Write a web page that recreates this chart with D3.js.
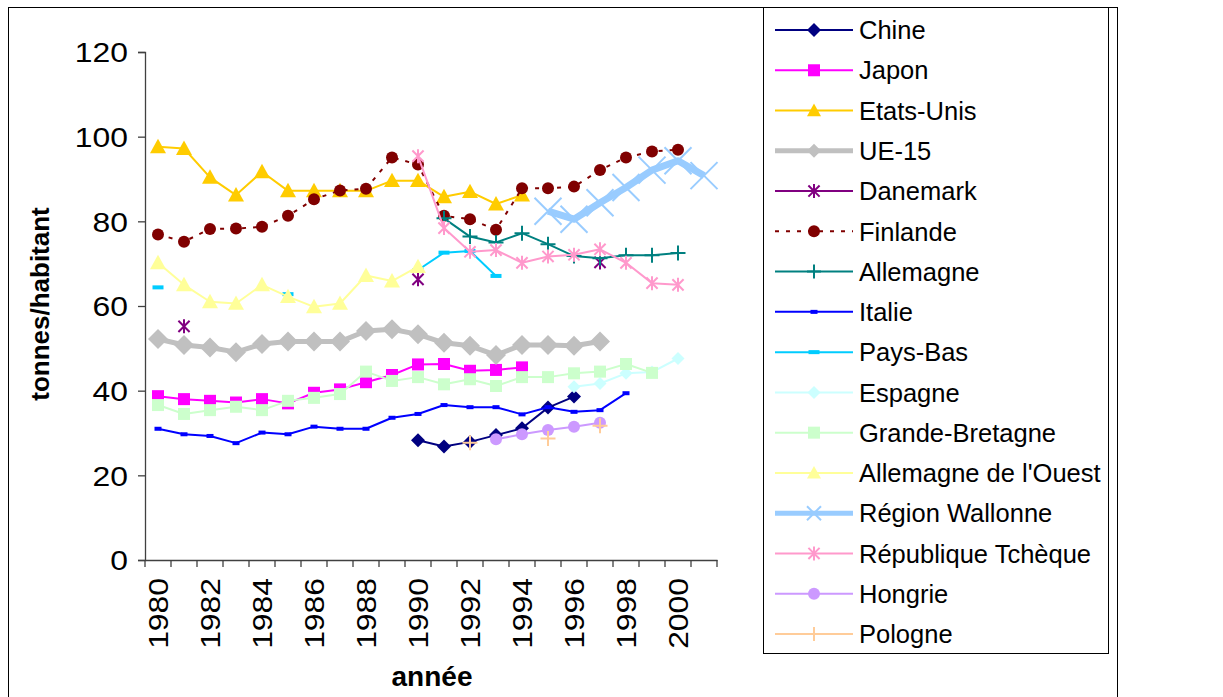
<!DOCTYPE html>
<html>
<head>
<meta charset="utf-8">
<script src="https://cdn.jsdelivr.net/npm/d3@7/dist/d3.min.js"></script>
<style>
  body { margin: 0; background: #fff; }
  svg { display: block; }
  text { font-family: "Liberation Sans", Arial, sans-serif; fill: #000; }
</style>
</head>
<body>
<svg id="chart" width="1223" height="697"></svg>
<script>
// ---- data: tonnes per inhabitant, 1980-2001 (null = no value) ----
const _ = null;
const years = [1980,1981,1982,1983,1984,1985,1986,1987,1988,1989,1990,1991,1992,1993,1994,1995,1996,1997,1998,1999,2000,2001];
const xTickLabels = [1980,1982,1984,1986,1988,1990,1992,1994,1996,1998,2000];
const yTickValues = [0,20,40,60,80,100,120];

const seriesNames = ["Chine","Japon","Etats-Unis","UE-15","Danemark","Finlande","Allemagne","Italie",
  "Pays-Bas","Espagne","Grande-Bretagne","Allemagne de l'Ouest","Région Wallonne","République Tchèque","Hongrie","Pologne"];

const chine      = [_,_,_,_,_,_,_,_,_,_,28.3,26.8,27.9,29.5,31.1,36.0,38.6,_,_,_,_,_];
const japon      = [38.7,38.0,37.6,37.2,38.0,37.0,39.5,40.3,42.0,43.7,46.2,46.3,44.7,44.9,45.5,_,_,_,_,_,_,_];
const etatsUnis  = [97.6,97.2,90.4,86.2,91.7,87.2,87.2,87.2,87.2,89.6,89.6,85.8,87.0,84.1,86.2,_,_,_,_,_,_,_];
const ue15       = [52.2,50.8,50.2,49.1,51.0,51.6,51.6,51.6,54.1,54.5,53.3,51.3,50.6,48.4,50.8,50.8,50.6,51.6,_,_,_,_];
const danemark   = [_,55.2,_,_,_,_,_,_,_,_,66.3,_,_,_,_,_,_,70.3,_,_,_,_];
const finlande   = [76.9,75.2,78.2,78.3,78.7,81.3,85.2,87.3,87.7,95.1,93.4,81.3,80.5,78.0,87.8,87.8,88.2,92.1,95.1,96.5,96.9,_];
const allemagne  = [_,_,_,_,_,_,_,_,_,_,_,80.7,76.4,75.0,77.2,74.6,71.8,71.3,72.0,72.0,72.5,_];
const italie     = [31.0,29.7,29.3,27.6,30.1,29.7,31.5,31.0,31.0,33.6,34.5,36.6,36.1,36.1,34.4,36.1,35.0,35.4,39.4,_,_,_];
const paysBas    = [64.4,_,_,_,_,62.8,_,_,_,_,68.5,72.6,73.0,67.1,_,_,_,_,_,_,_,_];
const espagne    = [_,_,_,_,_,_,_,_,_,_,_,_,_,_,_,_,40.9,41.7,44.1,44.4,47.6,_];
const grandeBret = [36.6,34.5,35.4,36.2,35.4,37.6,38.3,39.2,44.5,42.3,43.2,41.5,42.7,41.1,43.2,43.2,44.1,44.5,46.3,44.2,_,_];
const allOuest   = [70.2,65.0,61.0,60.6,65.0,62.2,59.8,60.6,67.2,65.9,69.3,_,_,_,_,_,_,_,_,_,_,_];
const wallonie   = [_,_,_,_,_,_,_,_,_,_,_,_,_,_,_,82.4,80.5,84.4,88.0,92.1,94.3,90.8];
const tcheque    = [_,_,_,_,_,_,_,_,_,_,95.4,78.4,72.8,73.2,70.2,71.7,72.1,73.4,70.2,65.4,65.0,_];
const hongrie    = [_,_,_,_,_,_,_,_,_,_,_,_,_,28.5,29.7,30.7,31.5,32.4,_,_,_,_];
const pologne    = [_,_,_,_,_,_,_,_,_,_,_,_,27.7,_,_,28.7,_,31.7,_,_,_,_];

const seriesValues = [chine, japon, etatsUnis, ue15, danemark, finlande, allemagne, italie,
  paysBas, espagne, grandeBret, allOuest, wallonie, tcheque, hongrie, pologne];

// ---- drawing styles, one per series ----
const seriesStyles = [
  { color: "#000080", width: 2,   marker: "diamond",  size: 14 },
  { color: "#FF00FF", width: 2,   marker: "square",   size: 12 },
  { color: "#FFCC00", width: 2,   marker: "triangle", size: 16 },
  { color: "#C0C0C0", width: 5,   marker: "diamond",  size: 20 },
  { color: "#800080", width: 2,   marker: "asterisk", size: 14 },
  { color: "#800000", width: 2,   marker: "circle",   size: 12, dash: "4,7" },
  { color: "#008080", width: 2,   marker: "plus",     size: 15 },
  { color: "#0000FF", width: 2,   marker: "dash",     size: 7 },
  { color: "#00CCFF", width: 2,   marker: "dash",     size: 11 },
  { color: "#CCFFFF", width: 2,   marker: "diamond",  size: 13 },
  { color: "#CCFFCC", width: 2,   marker: "square",   size: 12 },
  { color: "#FFFF99", width: 2,   marker: "triangle", size: 16 },
  { color: "#99CCFF", width: 7,   marker: "cross",    size: 27 },
  { color: "#FF99CC", width: 2,   marker: "asterisk", size: 14 },
  { color: "#CC99FF", width: 2,   marker: "circle",   size: 12 },
  { color: "#FFCC99", width: 2,   marker: "plus",     size: 15 }
];

const svg = d3.select("#chart");

// outer chart frame
svg.append("rect").attr("x", 8.5).attr("y", 7.5).attr("width", 1109).attr("height", 700)
  .attr("fill", "none").attr("stroke", "#000").attr("stroke-width", 1);

// ---- scales ----
const x = d3.scaleBand().domain(years).range([145, 717]).padding(0);
const cx = yr => x(yr) + x.bandwidth() / 2;
const y = d3.scaleLinear().domain([0, 120]).range([560, 52]);

const axisColor = "#404040";

// ---- y axis ----
const yAxisG = svg.append("g").attr("transform", "translate(145,0)")
  .call(d3.axisLeft(y).tickValues(yTickValues).tickSize(7).tickPadding(10));
yAxisG.select(".domain").attr("stroke", axisColor).attr("stroke-width", 1.3);
yAxisG.selectAll(".tick line").attr("stroke", axisColor).attr("stroke-width", 1.3);
yAxisG.selectAll(".tick text")
  .attr("x", 0).attr("dy", "0.36em")
  .attr("transform", "translate(-17,0) scale(1.18,1)")
  .style("font-size", "27px").style("font-family", "'Liberation Sans', Arial, sans-serif")
  .attr("fill", "#000");

// ---- x axis: category axis with ticks between categories ----
const xAxisG = svg.append("g").attr("transform", "translate(0,560)")
  .call(d3.axisBottom(x).tickValues(xTickLabels).tickSize(0).tickFormat(d3.format("d")));
xAxisG.select(".domain").attr("stroke", axisColor).attr("stroke-width", 1.3);
xAxisG.selectAll(".tick text")
  .attr("x", 0).attr("y", 0).attr("dy", "0.36em")
  .attr("text-anchor", "end")
  .attr("transform", "translate(0,18) rotate(-90) scale(1.18,1)")
  .style("font-size", "27px").style("font-family", "'Liberation Sans', Arial, sans-serif")
  .attr("fill", "#000");
const boundaries = years.map(yr => x(yr)).concat([x(years[years.length - 1]) + x.step()]);
xAxisG.selectAll("line.cat-tick").data(boundaries).join("line")
  .attr("class", "cat-tick")
  .attr("x1", d => d).attr("x2", d => d).attr("y1", 0).attr("y2", 7)
  .attr("stroke", axisColor).attr("stroke-width", 1.3);

// ---- axis titles ----
svg.append("text").attr("transform", "translate(40,304) rotate(-90)")
  .attr("text-anchor", "middle").attr("dy", "0.35em")
  .style("font-size", "26px").style("font-weight", "bold").text("tonnes/habitant");
svg.append("text").attr("x", 432).attr("y", 686)
  .attr("text-anchor", "middle")
  .style("font-size", "28px").style("font-weight", "bold").text("année");

// ---- markers ----
function drawMarker(g, type, px, py, color, s) {
  const h = s / 2;
  if (type === "diamond") {
    g.append("path").attr("d", `M${px},${py - h}L${px + h},${py}L${px},${py + h}L${px - h},${py}Z`).attr("fill", color);
  } else if (type === "square") {
    g.append("rect").attr("x", px - h).attr("y", py - h).attr("width", s).attr("height", s).attr("fill", color);
  } else if (type === "triangle") {
    g.append("path").attr("d", `M${px},${py - h}L${px + h},${py + h * 0.8}L${px - h},${py + h * 0.8}Z`).attr("fill", color);
  } else if (type === "circle") {
    g.append("circle").attr("cx", px).attr("cy", py).attr("r", h).attr("fill", color);
  } else if (type === "dash") {
    g.append("rect").attr("x", px - h).attr("y", py - 2).attr("width", s).attr("height", 4).attr("fill", color);
  } else if (type === "plus") {
    g.append("path").attr("d", `M${px - h},${py}H${px + h}M${px},${py - h}V${py + h}`)
      .attr("stroke", color).attr("stroke-width", 2).attr("fill", "none");
  } else if (type === "cross") {
    g.append("path").attr("d", `M${px - h},${py - h}L${px + h},${py + h}M${px - h},${py + h}L${px + h},${py - h}`)
      .attr("stroke", color).attr("stroke-width", 2).attr("fill", "none");
  } else if (type === "asterisk") {
    const k = h * 0.8;
    g.append("path").attr("d", `M${px - k},${py - k}L${px + k},${py + k}M${px - k},${py + k}L${px + k},${py - k}M${px},${py - h}V${py + h}`)
      .attr("stroke", color).attr("stroke-width", 2).attr("fill", "none");
  }
}

// ---- series ----
const line = d3.line()
  .defined(d => d.v !== null)
  .x(d => cx(d.year))
  .y(d => y(d.v));

const plot = svg.append("g");
seriesValues.forEach((vals, i) => {
  const st = seriesStyles[i];
  const pts = vals.map((v, j) => ({ year: years[j], v }));
  const g = plot.append("g");
  g.append("path").datum(pts).attr("d", line)
    .attr("fill", "none").attr("stroke", st.color).attr("stroke-width", st.width)
    .attr("stroke-linejoin", "round")
    .attr("stroke-dasharray", st.dash || null);
  pts.filter(d => d.v !== null).forEach(d => drawMarker(g, st.marker, cx(d.year), y(d.v), st.color, st.size));
});

// ---- legend ----
const legend = svg.append("g");
legend.append("rect").attr("x", 763.5).attr("y", 7.5).attr("width", 345).attr("height", 646)
  .attr("fill", "#fff").attr("stroke", "#000").attr("stroke-width", 1);
const legendY = d3.scalePoint().domain(seriesNames).range([30, 634]);
seriesNames.forEach((name, i) => {
  const st = seriesStyles[i];
  const ly = legendY(name);
  const g = legend.append("g");
  g.append("line").attr("x1", 775).attr("x2", 853).attr("y1", ly).attr("y2", ly)
    .attr("stroke", st.color).attr("stroke-width", Math.min(st.width, 5))
    .attr("stroke-dasharray", st.dash || null);
  drawMarker(g, st.marker, 814, ly, st.color, Math.min(st.size, 14));
  g.append("text").attr("x", 859).attr("y", ly).attr("dy", "0.36em")
    .style("font-size", "25.5px").text(name);
});
</script>
</body>
</html>
